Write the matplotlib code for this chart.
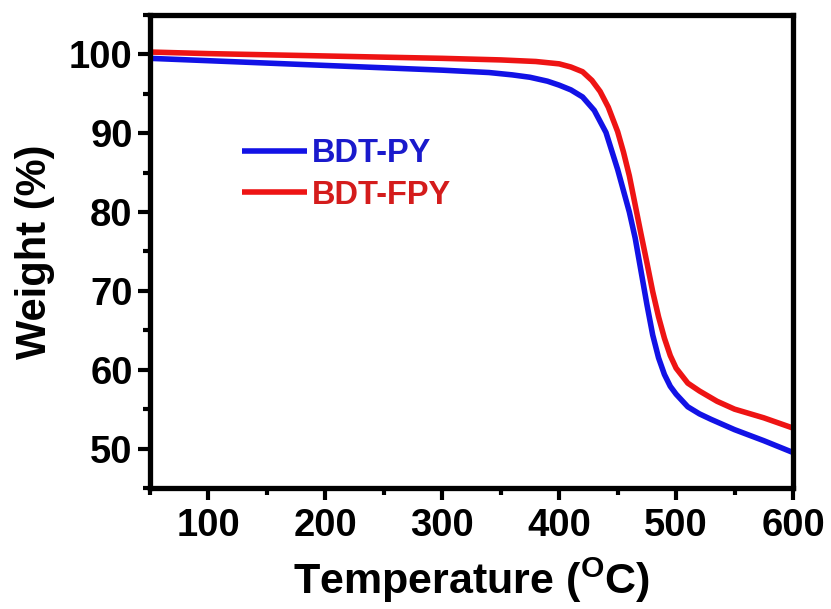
import matplotlib
matplotlib.use("Agg")
import matplotlib.pyplot as plt
from matplotlib.ticker import MultipleLocator

# TGA curves: temperature (degC) vs remaining weight (%)
temp_py = [50, 100, 150, 200, 250, 300, 340, 360, 375, 390, 400, 410, 420, 430,
           440, 450, 460, 465, 470, 475, 480, 485, 490, 495, 500, 510, 520, 530,
           550, 575, 600]
weight_py = [99.5, 99.2, 98.9, 98.6, 98.3, 98.0, 97.7, 97.4, 97.1, 96.6, 96.1,
             95.5, 94.6, 92.9, 90.1, 85.4, 80.0, 76.7, 72.5, 68.3, 64.4, 61.5,
             59.4, 57.9, 56.9, 55.3, 54.4, 53.7, 52.4, 51.0, 49.5]

temp_fpy = [50, 100, 150, 200, 250, 300, 350, 380, 400, 410, 420, 428, 435, 442,
            450, 455, 460, 465, 470, 475, 480, 485, 490, 495, 500, 510, 520, 535,
            550, 575, 600]
weight_fpy = [100.3, 100.1, 99.95, 99.8, 99.65, 99.5, 99.3, 99.1, 98.8, 98.4,
              97.8, 96.7, 95.3, 93.3, 90.2, 87.6, 84.6, 80.9, 77.2, 73.6, 69.9,
              66.7, 64.0, 61.8, 60.2, 58.3, 57.3, 56.0, 55.0, 53.9, 52.6]

labels = ["BDT-PY", "BDT-FPY"]
line_colors = ["#1212e6", "#ee1414"]
text_colors = ["#1a1acc", "#d41c1c"]

plt.rcParams["font.family"] = ["Liberation Sans", "DejaVu Sans"]
plt.rcParams["font.weight"] = "bold"
plt.rcParams["mathtext.fontset"] = "custom"
plt.rcParams["mathtext.rm"] = "Liberation Sans:bold"
plt.rcParams["mathtext.bf"] = "Liberation Sans:bold"

fig = plt.figure(figsize=(8.31, 6.09), dpi=100)
ax = fig.add_axes([0.1805, 0.1987, 0.7738, 0.7767])

ax.plot(temp_py, weight_py, color=line_colors[0], lw=4.0, label=labels[0],
        solid_capstyle="butt", solid_joinstyle="round")
ax.plot(temp_fpy, weight_fpy, color=line_colors[1], lw=4.0, label=labels[1],
        solid_capstyle="butt", solid_joinstyle="round")

ax.set_xlim(50, 600)
ax.set_ylim(45, 105)
ax.xaxis.set_major_locator(MultipleLocator(100))
ax.xaxis.set_minor_locator(MultipleLocator(50))
ax.yaxis.set_major_locator(MultipleLocator(10))
ax.yaxis.set_minor_locator(MultipleLocator(5))

for s in ax.spines.values():
    s.set_linewidth(3.8)

ax.tick_params(which="major", direction="out", length=8.5, width=3,
               labelsize=27.5, pad=4)
ax.tick_params(which="minor", direction="out", length=5, width=3)
ax.tick_params(axis="x", which="major", pad=6)
for t in ax.get_xticklabels() + ax.get_yticklabels():
    t.set_fontweight("bold")

ax.set_xlabel(r"Temperature ($\mathbf{^{O}}$C)", fontsize=31,
              fontweight="bold", labelpad=8)
ax.set_ylabel("Weight (%)", fontsize=30, fontweight="bold", labelpad=10)

leg = ax.legend(loc="center left", bbox_to_anchor=(0.117, 0.663),
                frameon=False, handlelength=2.0,
                handletextpad=0.15, labelspacing=0.32, borderpad=0,
                prop={"weight": "bold", "size": 23.5})
for txt, c in zip(leg.get_texts(), text_colors):
    txt.set_color(c)

fig.savefig("out.png", dpi=100)
